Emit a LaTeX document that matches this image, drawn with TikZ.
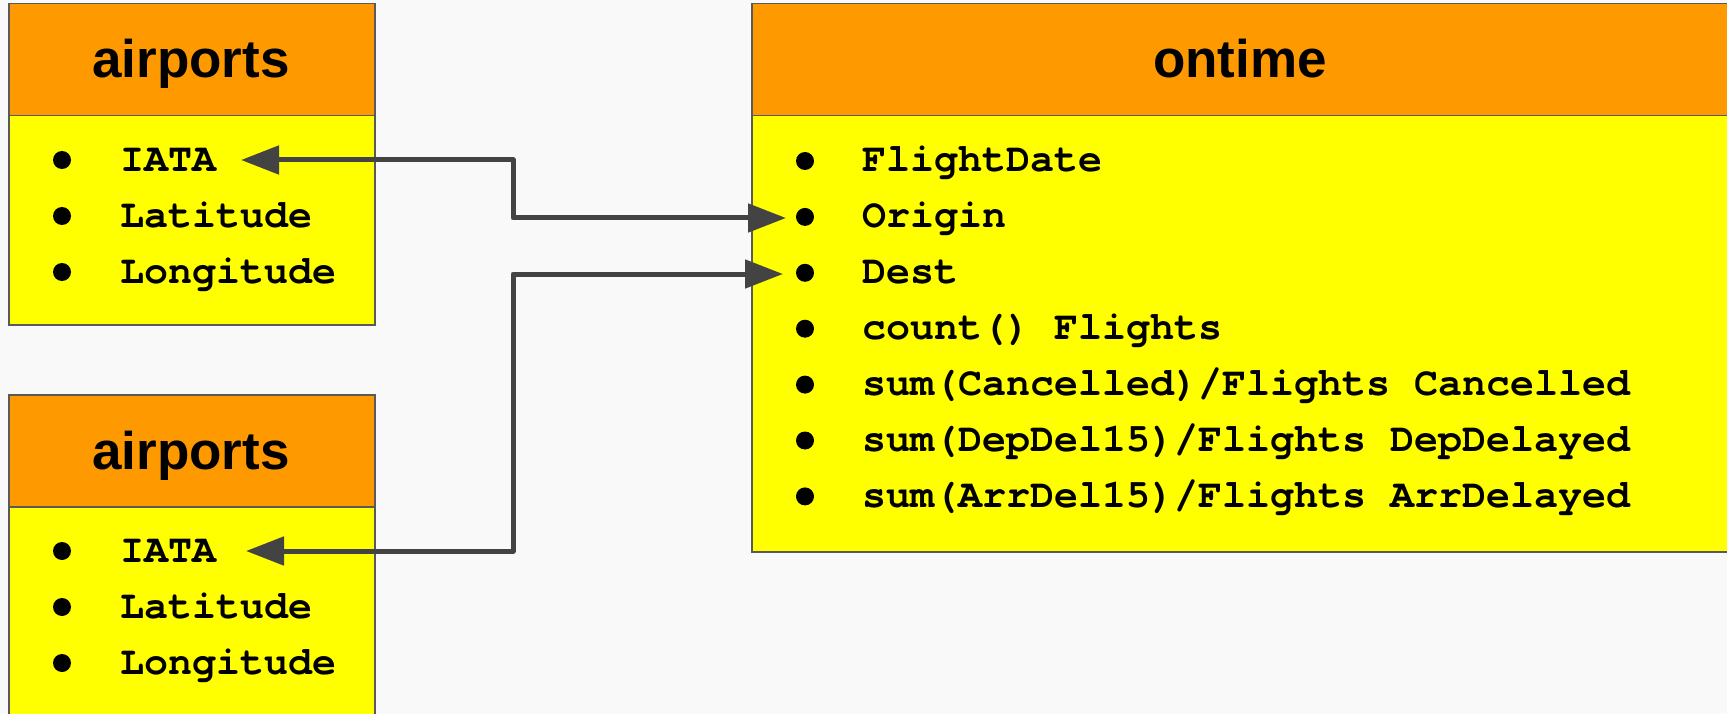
\documentclass[tikz,border=0pt]{standalone}
\usepackage{fontspec}
\setmainfont{Liberation Sans}
\newfontfamily\codefont{texgyrecursor}[Extension=.otf,UprightFont=*-regular,BoldFont=*-bold]
\usetikzlibrary{arrows.meta}
\definecolor{canvas}{HTML}{F9F9F9}
\definecolor{headfill}{HTML}{FF9900}
\definecolor{bodyfill}{HTML}{FFFF00}
\definecolor{edgecol}{HTML}{595959}
\definecolor{linkcol}{HTML}{434343}

\begin{document}
\begin{tikzpicture}[x=1pt,y=-1pt,
  headbox/.style={draw=edgecol,line width=1.5pt,fill=headfill,anchor=north west,inner sep=0pt},
  bodybox/.style={draw=edgecol,line width=1.5pt,fill=bodyfill,anchor=north west,inner sep=0pt},
  title/.style={anchor=base,inner sep=0pt,font=\fontsize{53}{60}\selectfont\bfseries},
  field/.style={anchor=base west,inner sep=0pt,font=\fontsize{40}{48}\selectfont\codefont\bfseries},
  dot/.style={circle,fill=black,minimum size=18pt,inner sep=0pt},
  link/.style={draw=linkcol,line width=5pt,line join=round,
    {Triangle[length=38pt,width=28pt]}-{Triangle[length=38pt,width=28pt]}}]

\clip (0,0) rectangle (1727,714);
\fill[canvas] (0,0) rectangle (1727,714);

% ---- upper airports table
\node[headbox,minimum width=366pt,minimum height=112pt] (apAhead) at (8,3) {};
\node[bodybox,minimum width=366pt,minimum height=209pt] (apAbody) at (8,115) {};
\node[title] (apAtitle) at (191,78) {airports};
\foreach \t [count=\i from 0] in {IATA,Latitude,Longitude}{
  \node[dot] (apAdot\i) at (62,160+56*\i) {};
  \node[field] (apAf\i) at (120,171.5+56*\i) {\t};
}

% ---- lower airports table (continues below the page)
\node[headbox,minimum width=366pt,minimum height=112pt] (apBhead) at (8,394) {};
\node[bodybox,minimum width=366pt,minimum height=300pt] (apBbody) at (8,506) {};
\node[title] (apBtitle) at (191,469) {airports};
\foreach \t [count=\i from 0] in {IATA,Latitude,Longitude}{
  \node[dot] (apBdot\i) at (62,551+56*\i) {};
  \node[field] (apBf\i) at (120,562.5+56*\i) {\t};
}

% ---- ontime table (continues past the right edge)
\node[headbox,minimum width=978pt,minimum height=112pt] (otHead) at (751,3) {};
\node[bodybox,minimum width=978pt,minimum height=436pt] (otBody) at (751,115) {};
\node[title] (otTitle) at (1240,78) {ontime};
\foreach \t [count=\i from 0] in {FlightDate,Origin,Dest,count() Flights,
    sum(Cancelled)/Flights Cancelled,sum(DepDel15)/Flights DepDelayed,
    sum(ArrDel15)/Flights ArrDelayed}{
  \node[dot] (otDot\i) at (805,161+55.9*\i) {};
  \node[field] (otF\i) at (862,172+55.9*\i) {\t};
}

% ---- join connectors
\coordinate (iataA) at (241,160);
\coordinate (iataB) at (246,551);
\coordinate (originTip) at (786,218);
\coordinate (destTip) at (783,274);
\coordinate (jogA) at (513,218);
\coordinate (jogB) at (513,274);

\draw[link] (iataA) -| (jogA) -- (originTip);
\draw[link] (iataB) -| (jogB) -- (destTip);
\end{tikzpicture}
\end{document}
